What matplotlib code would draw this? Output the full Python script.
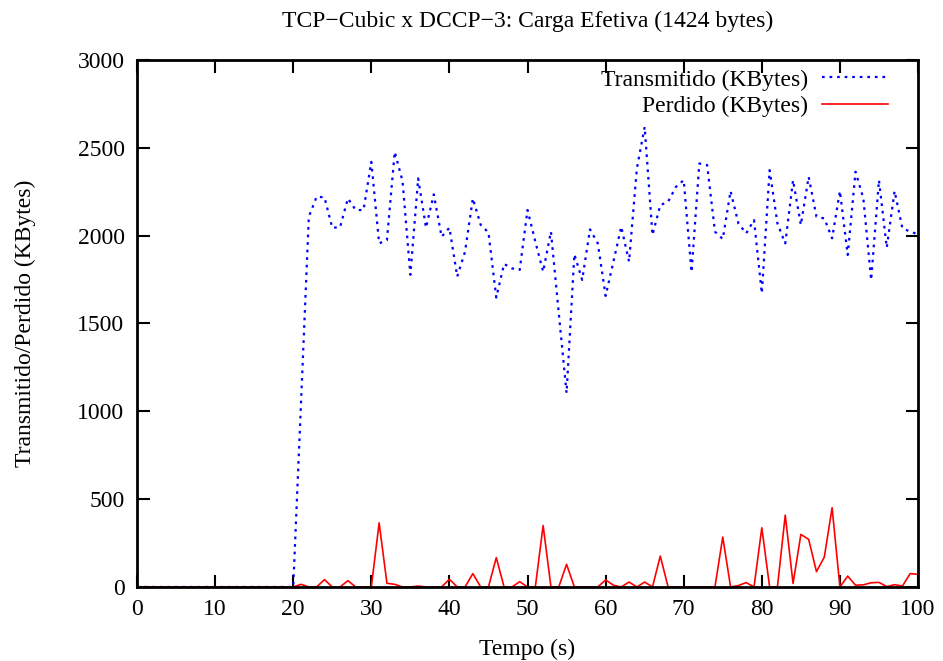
import matplotlib
matplotlib.use("Agg")
import matplotlib.pyplot as plt

plt.rcParams['font.family'] = ['Liberation Serif', 'DejaVu Serif']

tempo = list(range(0, 101))

transmitido = [0]*20 + [
    0, 1050, 2108, 2222, 2218, 2045, 2048, 2212, 2146, 2146,   # 20-29
    2420, 1956, 1975, 2477, 2310, 1777, 2326, 2045, 2235, 1994,  # 30-39
    2045, 1767, 1909, 2212, 2062, 2018, 1648, 1839, 1814, 1805,  # 40-49
    2146, 1966, 1795, 2023, 1560, 1104, 1894, 1748, 2036, 1956,  # 50-59
    1657, 1852, 2051, 1852, 2382, 2619, 2004, 2174, 2193, 2278,  # 60-69
    2316, 1793, 2411, 2402, 2023, 1981, 2254, 2070, 2013, 2089,  # 70-79
    1672, 2373, 2070, 1956, 2316, 2061, 2335, 2108, 2098, 1985,  # 80-89
    2254, 1890, 2364, 2212, 1748, 2316, 1932, 2254, 2042, 2023,  # 90-99
    2008,                                                      # 100
]

perdido = [0]*20 + [
    0, 15, 0, 0, 42, 0, 0, 36, 0, 0,        # 20-29
    0, 365, 21, 15, 0, 0, 5, 0, 0, 0,       # 30-39
    44, 0, 0, 76, 0, 0, 167, 0, 0, 30,      # 40-49
    0, 0, 350, 0, 0, 129, 0, 0, 0, 0,       # 50-59
    40, 10, 0, 28, 0, 28, 0, 176, 0, 0,     # 60-69
    0, 0, 0, 0, 0, 284, 0, 8, 25, 0,        # 70-79
    337, 0, 0, 409, 20, 299, 271, 87, 170, 451,  # 80-89
    0, 62, 10, 12, 24, 26, 2, 13, 5, 76,    # 90-99
    72,                                     # 100
]

fig = plt.figure(figsize=(9.43, 6.61), dpi=100)
ax = fig.add_axes([0.1453, 0.112, 0.8282, 0.7972])

ax.plot(tempo, transmitido, color='#0000ff', linestyle=(0, (1.2, 2.2)), linewidth=1.6,
        label='Transmitido (KBytes)')
ax.plot(tempo, perdido, color='#ff0000', linestyle='-', linewidth=1.2,
        label='Perdido (KBytes)')

ax.set_xlim(0, 100)
ax.set_ylim(0, 3000)
ax.set_xticks(range(0, 101, 10))
ax.set_yticks(range(0, 3001, 500))
ax.tick_params(direction='in', length=9, width=1.5, top=True, right=True,
               labelsize=17, pad=9)
for s in ax.spines.values():
    s.set_linewidth(2)

ax.set_xlabel('Tempo (s)', fontsize=17, labelpad=13)
ax.set_ylabel('Transmitido/Perdido (KBytes)', fontsize=17, labelpad=30)
ax.set_title('TCP\u2212Cubic x DCCP\u22123: Carga Efetiva (1424 bytes)', fontsize=17, pad=24)

leg = ax.legend(loc='upper right', bbox_to_anchor=(0.9616, 0.983), frameon=False,
                markerfirst=False, fontsize=17, handlelength=2.8, borderaxespad=0,
                borderpad=0, labelspacing=0.22, handletextpad=0.6)
for t in leg.get_texts():
    t.set_ha('right')

fig.savefig('out.png', dpi=100)
